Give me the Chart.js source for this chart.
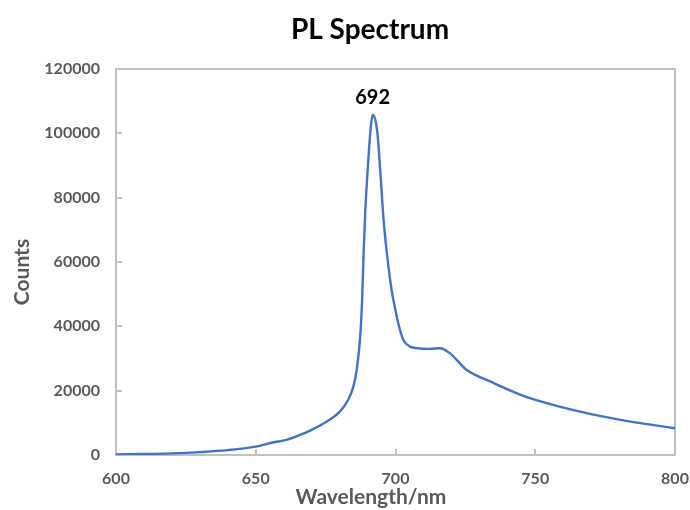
<!DOCTYPE html>
<html>
<head>
<meta charset="utf-8">
<script src="https://cdn.jsdelivr.net/npm/chart.js@4/dist/chart.umd.min.js"></script>
<style>
  html, body { margin: 0; padding: 0; background: #fff; }
  #wrap { width: 690px; height: 510px; }
</style>
</head>
<body>
<div id="wrap"><canvas id="myChart" width="690" height="510"></canvas></div>
<script>
// wavelength (nm) and PL counts
const wavelength = [600, 610, 620, 630, 640, 650, 656, 661, 666, 670, 675, 680, 683, 685, 686.1,
  687.3, 688.0, 688.6, 689.2, 690.3, 691.2, 691.8, 692.4, 693.0, 693.6, 694.5, 695.6, 696.5, 697.5, 698.6,
  700, 701, 702.8, 705.2, 708, 712, 716, 719.5, 725.5, 734, 746, 758, 770, 782, 790, 800];
const counts = [200, 300, 500, 900, 1500, 2600, 3900, 4700, 6300, 7800, 10200, 13400, 17000, 21500, 26400,
  36000, 47000, 63000, 76000, 92000, 102500, 105700, 105200, 103300, 99500, 89000, 74600, 66000, 58500, 51300,
  45000, 40900, 35800, 33700, 33200, 33000, 33200, 31600, 26400, 22800, 18300, 15200, 12700, 10700, 9600, 8300];
const peakLabel = '692';

const xTicks = [600, 650, 700, 750, 800];
const yTicks = [0, 20000, 40000, 60000, 80000, 100000, 120000];

const gris = '#595959';
const fonte = 'Lato, "Open Sans", sans-serif';

const pontos = wavelength.map(function (w, i) { return { x: w, y: counts[i] }; });

// moldura, titulos e rotulo do pico
const extras = {
  id: 'extras',
  beforeDatasetsDraw(chart) {
    const a = chart.chartArea;
    const ctx = chart.ctx;
    ctx.save();
    ctx.strokeStyle = '#BFBFBF';
    ctx.lineWidth = 2;
    ctx.strokeRect(a.left, a.top, a.right - a.left, a.bottom - a.top);
    ctx.restore();
  },
  afterDraw(chart) {
    const ctx = chart.ctx;
    const meio = chart.width / 2 + 26;
    ctx.save();
    ctx.textAlign = 'center';
    ctx.textBaseline = 'middle';

    ctx.fillStyle = '#000';
    ctx.font = 'bold 28px ' + fonte;
    ctx.fillText('PL Spectrum', meio - 1, 30);

    ctx.fillStyle = gris;
    ctx.font = 'bold 21px ' + fonte;
    ctx.fillText('Wavelength/nm', meio, 497);

    ctx.save();
    ctx.translate(22, 272);
    ctx.rotate(-Math.PI / 2);
    ctx.fillText('Counts', 0, 0);
    ctx.restore();

    // pico
    let iMax = 0;
    counts.forEach(function (c, i) { if (c > counts[iMax]) iMax = i; });
    const px = chart.scales.x.getPixelForValue(wavelength[iMax]);
    const py = chart.scales.y.getPixelForValue(counts[iMax]);
    ctx.fillStyle = '#000';
    ctx.font = 'bold 20px ' + fonte;
    ctx.textBaseline = 'bottom';
    ctx.fillText(peakLabel, px, py - 7);
    ctx.restore();
  }
};

const config = {
  type: 'line',
  data: {
    datasets: [{
      data: pontos,
      borderColor: '#4472C4',
      borderWidth: 2.4,
      pointRadius: 0,
      fill: false,
      cubicInterpolationMode: 'monotone'
    }]
  },
  options: {
    responsive: false,
    animation: false,
    layout: { padding: { top: 69, right: 15, left: 9, bottom: 0 } },
    plugins: {
      legend: { display: false },
      tooltip: { enabled: false },
      title: { display: false }
    },
    scales: {
      x: {
        type: 'linear',
        min: 600,
        max: 800,
        afterBuildTicks(axis) { axis.ticks = xTicks.map(function (v) { return { value: v }; }); },
        afterFit(axis) { axis.height = 55; axis.paddingRight = 0; axis.paddingLeft = 0; },
        grid: { drawOnChartArea: false, tickLength: -6, color: '#BFBFBF', lineWidth: 2 },
        border: { display: false },
        ticks: { color: gris, font: { family: fonte, size: 16, weight: 'bold' }, padding: 20, maxRotation: 0 }
      },
      y: {
        min: 0,
        max: 120000,
        afterBuildTicks(axis) { axis.ticks = yTicks.map(function (v) { return { value: v }; }); },
        afterFit(axis) { axis.width = 107; axis.paddingTop = 0; axis.paddingBottom = 0; },
        grid: { drawOnChartArea: false, tickLength: -6, color: '#BFBFBF', lineWidth: 2 },
        border: { display: false },
        ticks: { color: gris, font: { family: fonte, size: 16, weight: 'bold' }, padding: 22, callback: function (v) { return String(v); } }
      }
    }
  },
  plugins: [extras]
};

const myChart = new Chart(document.getElementById('myChart'), config);
</script>
</body>
</html>
